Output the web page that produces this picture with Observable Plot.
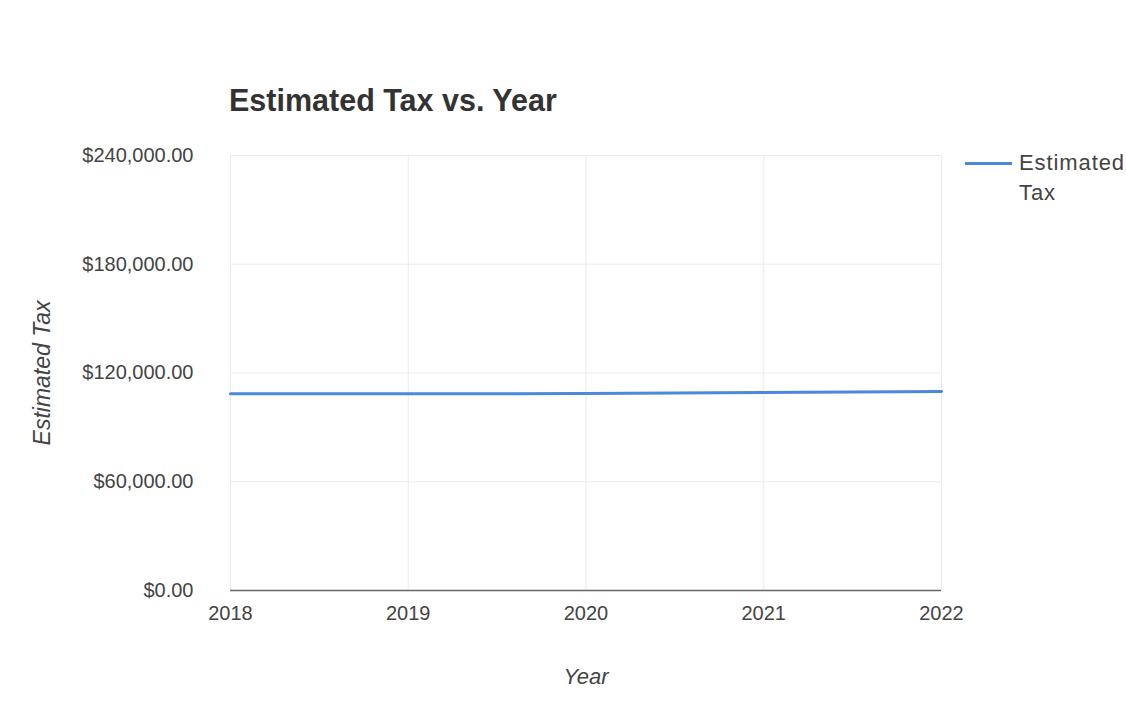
<!DOCTYPE html>
<html>
<head>
<meta charset="utf-8">
<script src="https://cdn.jsdelivr.net/npm/d3@7"></script>
<script src="https://cdn.jsdelivr.net/npm/@observablehq/plot@0.6"></script>
<style>
  html, body { margin: 0; padding: 0; background: #fff; }
  body { width: 1126px; height: 719px; position: relative; overflow: hidden; font-family: "Liberation Sans", Arial, sans-serif; }
  #title { position: absolute; left: 229px; top: 82px; font-size: 30.5px; line-height: 36px; font-weight: bold; color: #333; margin: 0; }
  #legend { position: absolute; left: 965px; top: 148px; color: #444; font-size: 22px; line-height: 30px; }
  #legend .sw { position: absolute; left: 0; top: 14px; width: 47px; height: 3px; background: #4a89dc; }
  #legend .lbl { position: absolute; left: 54px; top: 0px; white-space: nowrap; letter-spacing: 0.9px; }
  #chart { position: absolute; left: 0; top: 0; }
</style>
</head>
<body>
<h2 id="title">Estimated Tax vs. Year</h2>
<div id="legend"><div class="sw"></div><div class="lbl">Estimated<br>Tax</div></div>
<div id="chart"></div>
<script>
const years = [2018, 2019, 2020, 2021, 2022];
const estimatedTax = [108500, 108500, 108700, 109200, 109800];
const yTicks = [0, 60000, 120000, 180000, 240000];
const seriesName = "Estimated Tax";
const xLabel = "Year";
const yLabel = "Estimated Tax";

const data = years.map((y, i) => ({year: y, tax: estimatedTax[i]}));
const fmt = d3.format("$,.2f");

const plot = Plot.plot({
  width: 1126,
  height: 719,
  marginLeft: 230,
  marginRight: 185,
  marginTop: 155,
  marginBottom: 129,
  style: {fontFamily: "'Liberation Sans', Arial, sans-serif", fontSize: "20px", color: "#444", background: "transparent"},
  x: {domain: [2018, 2022]},
  y: {domain: [0, 240000]},
  marks: [
    Plot.gridX(years, {stroke: "#ebebeb", strokeOpacity: 1}),
    Plot.gridY(yTicks, {stroke: "#ebebeb", strokeOpacity: 1}),
    Plot.axisX(years, {tickFormat: d => String(d), tickSize: 0, tickPadding: 15, label: null, fill: "#444", fontSize: 20, style: {letterSpacing: "2.5px"}}),
    Plot.axisY(yTicks, {tickFormat: fmt, tickSize: 0, tickPadding: 37, label: null, fill: "#444", fontSize: 20, style: {letterSpacing: "0.8px"}}),
    Plot.ruleY([0], {stroke: "#666", strokeWidth: 1.5}),
    Plot.line(data, {x: "year", y: "tax", stroke: "#4a89dc", strokeWidth: 3}),
    Plot.text([yLabel], {frameAnchor: "left", dx: -188, rotate: -90, textAnchor: "middle", lineAnchor: "middle", fontStyle: "italic", fontSize: 23, fill: "#444"}),
    Plot.text([xLabel], {frameAnchor: "bottom", dy: 86, textAnchor: "middle", lineAnchor: "middle", fontStyle: "italic", fontSize: 22, fill: "#444"})
  ]
});
document.getElementById("chart").appendChild(plot);
</script>
</body>
</html>
